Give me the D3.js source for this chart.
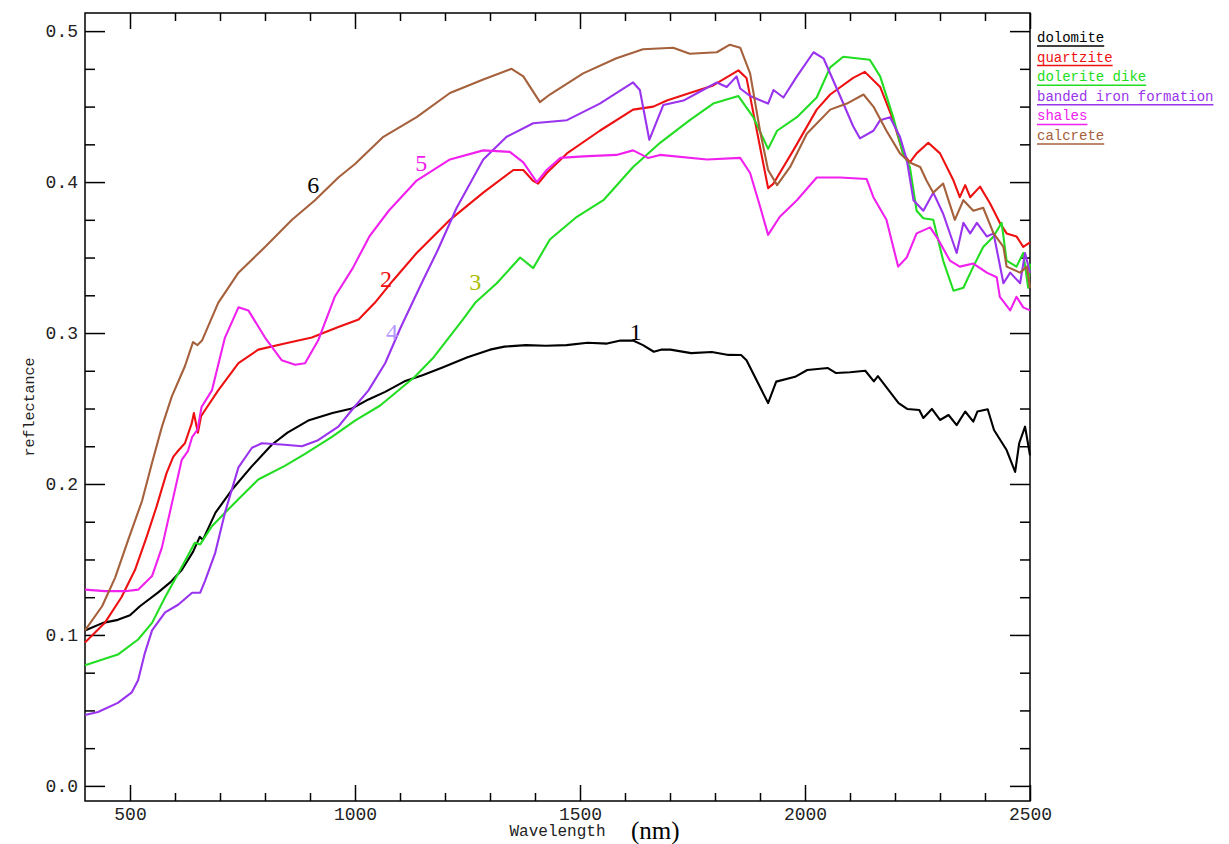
<!DOCTYPE html>
<html>
<head>
<meta charset="utf-8">
<script src="https://cdn.jsdelivr.net/npm/d3@7"></script>
<style>
  html, body { margin: 0; padding: 0; background: #fff; }
  svg { display: block; }
</style>
</head>
<body>
<svg id="chart" width="1229" height="844"></svg>
<script>
// ---------------- DATA ----------------
const dolomite = [[400,0.103],[440,0.108],[473,0.110],[500,0.113],[522,0.119],[562,0.128],[590,0.135],[615,0.143],[640,0.155],[655,0.165],[662,0.163],[690,0.181],[726,0.196],[770,0.2115],[815,0.226],[850,0.234],[896,0.242],[950,0.247],[993,0.250],[1030,0.256],[1067,0.261],[1110,0.268],[1150,0.272],[1193,0.277],[1250,0.284],[1300,0.289],[1332,0.291],[1380,0.292],[1424,0.2916],[1470,0.292],[1517,0.2936],[1560,0.293],[1590,0.295],[1618,0.295],[1640,0.292],[1664,0.2876],[1680,0.289],[1701,0.289],[1747,0.2867],[1793,0.2874],[1830,0.2855],[1858,0.2854],[1870,0.282],[1918,0.2536],[1936,0.2678],[1978,0.271],[2005,0.2755],[2051,0.2768],[2069,0.2735],[2100,0.274],[2134,0.275],[2153,0.268],[2162,0.2715],[2208,0.2536],[2227,0.2497],[2254,0.249],[2263,0.2437],[2282,0.2497],[2300,0.2424],[2319,0.2457],[2337,0.239],[2356,0.248],[2374,0.2413],[2383,0.248],[2406,0.2495],[2420,0.2358],[2448,0.2225],[2467,0.208],[2476,0.227],[2489,0.238],[2498,0.2225],[2500,0.219]];

const quartzite = [[400,0.095],[444,0.108],[481,0.125],[511,0.143],[537,0.165],[559,0.185],[581,0.207],[596,0.218],[607,0.222],[622,0.227],[637,0.240],[642,0.247],[648,0.238],[651,0.234],[658,0.245],[667,0.249],[696,0.262],[741,0.280],[785,0.289],[844,0.293],[904,0.297],[963,0.304],[1008,0.309],[1044,0.320],[1085,0.335],[1137,0.353],[1211,0.375],[1285,0.393],[1352,0.408],[1374,0.408],[1395,0.401],[1407,0.399],[1426,0.406],[1471,0.419],[1544,0.434],[1618,0.448],[1663,0.450],[1693,0.454],[1744,0.459],[1796,0.464],[1852,0.474],[1870,0.469],[1918,0.396],[1930,0.399],[1974,0.421],[2026,0.448],[2056,0.458],[2107,0.469],[2133,0.473],[2167,0.463],[2196,0.441],[2218,0.419],[2233,0.413],[2248,0.419],[2274,0.426],[2300,0.419],[2330,0.401],[2344,0.39],[2356,0.398],[2367,0.39],[2389,0.397],[2411,0.386],[2433,0.373],[2448,0.366],[2470,0.364],[2485,0.357],[2500,0.360]];

const doleriteDike = [[400,0.080],[473,0.087],[518,0.097],[549,0.108],[578,0.125],[615,0.145],[644,0.161],[656,0.160],[682,0.172],[711,0.181],[748,0.192],[785,0.203],[844,0.212],[889,0.220],[948,0.231],[1000,0.242],[1056,0.252],[1133,0.271],[1175,0.284],[1240,0.309],[1267,0.320],[1315,0.333],[1367,0.350],[1396,0.343],[1433,0.362],[1493,0.377],[1552,0.388],[1618,0.410],[1678,0.426],[1744,0.441],[1796,0.452],[1852,0.457],[1885,0.443],[1918,0.422],[1938,0.434],[1982,0.443],[2026,0.456],[2056,0.476],[2085,0.483],[2144,0.481],[2167,0.470],[2196,0.443],[2218,0.419],[2233,0.410],[2248,0.381],[2263,0.376],[2285,0.375],[2307,0.348],[2330,0.328],[2352,0.330],[2374,0.344],[2396,0.357],[2419,0.364],[2437,0.373],[2448,0.348],[2470,0.344],[2485,0.353],[2496,0.330],[2500,0.346]];

const bandedIron = [[400,0.047],[429,0.049],[473,0.055],[504,0.062],[518,0.070],[533,0.088],[549,0.103],[578,0.115],[607,0.120],[638,0.128],[656,0.128],[667,0.136],[689,0.154],[711,0.181],[741,0.211],[771,0.224],[793,0.227],[844,0.226],[882,0.225],[918,0.229],[963,0.238],[993,0.249],[1030,0.262],[1067,0.280],[1102,0.304],[1148,0.333],[1184,0.355],[1226,0.383],[1285,0.415],[1337,0.430],[1396,0.439],[1471,0.441],[1544,0.452],[1618,0.466],[1633,0.461],[1654,0.428],[1685,0.451],[1730,0.454],[1767,0.460],[1804,0.466],[1826,0.463],[1848,0.470],[1856,0.462],[1878,0.457],[1918,0.452],[1930,0.461],[1952,0.456],[1982,0.470],[2019,0.486],[2041,0.482],[2078,0.457],[2107,0.437],[2122,0.429],[2152,0.434],[2167,0.441],[2189,0.443],[2211,0.430],[2226,0.415],[2241,0.388],[2263,0.381],[2285,0.393],[2307,0.379],[2337,0.353],[2352,0.373],[2367,0.366],[2382,0.373],[2404,0.364],[2419,0.366],[2441,0.333],[2456,0.340],[2478,0.333],[2489,0.353],[2500,0.340]];

const shales = [[400,0.130],[444,0.129],[489,0.129],[518,0.130],[549,0.139],[571,0.158],[593,0.187],[615,0.216],[629,0.222],[638,0.231],[650,0.236],[659,0.251],[682,0.262],[711,0.297],[741,0.317],[763,0.315],[800,0.297],[837,0.282],[867,0.279],[889,0.280],[918,0.295],[955,0.324],[995,0.343],[1032,0.364],[1075,0.381],[1137,0.401],[1211,0.415],[1285,0.421],[1344,0.420],[1374,0.413],[1404,0.400],[1426,0.408],[1456,0.416],[1507,0.417],[1581,0.418],[1618,0.421],[1651,0.416],[1678,0.418],[1782,0.415],[1856,0.416],[1878,0.406],[1900,0.384],[1918,0.365],[1944,0.377],[1982,0.388],[2026,0.403],[2078,0.403],[2137,0.402],[2152,0.390],[2181,0.375],[2207,0.344],[2226,0.350],[2248,0.366],[2278,0.370],[2296,0.362],[2322,0.348],[2344,0.344],[2374,0.346],[2404,0.340],[2426,0.337],[2433,0.324],[2456,0.315],[2470,0.324],[2485,0.317],[2500,0.315]];

const calcrete = [[400,0.103],[438,0.119],[467,0.138],[496,0.163],[527,0.189],[549,0.214],[571,0.238],[593,0.258],[622,0.278],[640,0.294],[650,0.292],[660,0.295],[696,0.320],[741,0.340],[800,0.357],[860,0.375],[911,0.388],[963,0.403],[1000,0.412],[1063,0.430],[1137,0.443],[1211,0.459],[1285,0.468],[1348,0.475],[1374,0.470],[1411,0.453],[1433,0.458],[1507,0.472],[1581,0.482],[1640,0.488],[1707,0.489],[1744,0.485],[1804,0.486],[1833,0.491],[1856,0.489],[1878,0.472],[1900,0.434],[1918,0.408],[1938,0.398],[1967,0.410],[2004,0.432],[2056,0.448],[2093,0.452],[2130,0.458],[2152,0.450],[2181,0.434],[2211,0.419],[2233,0.413],[2256,0.410],[2270,0.401],[2285,0.393],[2307,0.399],[2333,0.375],[2352,0.388],[2374,0.381],[2396,0.383],[2419,0.366],[2441,0.357],[2448,0.344],[2478,0.340],[2493,0.344],[2500,0.330]];

const seriesNames = ["dolomite", "quartzite", "dolerite dike", "banded iron formation", "shales", "calcrete"];
const seriesData = [dolomite, quartzite, doleriteDike, bandedIron, shales, calcrete];
const seriesColors = ["#000000", "#ee1111", "#22dd22", "#9933ee", "#f020ee", "#a5603c"];

const xMajorTicks = [500, 1000, 1500, 2000, 2500];
const xMinorTicks = [600,700,800,900,1100,1200,1300,1400,1600,1700,1800,1900,2100,2200,2300,2400];
const yMajorTicks = [0.0, 0.1, 0.2, 0.3, 0.4, 0.5];
const yMinorTicks = [0.025,0.05,0.075,0.125,0.15,0.175,0.225,0.25,0.275,0.325,0.35,0.375,0.425,0.45,0.475];

// curve number annotations
const annoLabels = ["6", "5", "2", "3", "4", "1"];
const annoWave   = [907, 1147, 1069, 1267, 1082, 1624];
const annoRefl   = [0.398, 0.413, 0.336, 0.334, 0.301, 0.301];
const annoColors = ["#000000", "#f020ee", "#ee1111", "#aabb00", "#b399ff", "#000000"];

// ---------------- CHART ----------------
const svg = d3.select("#chart");
const L = 85, R = 1030, T = 13, B = 801;
const x = d3.scaleLinear().domain([400, 2500]).range([L, R]);
const y = d3.scaleLinear().domain([-0.01, 0.512]).range([B, T]);

const tickFont = "'Liberation Mono', 'DejaVu Sans Mono', monospace";

const gx = svg.append("g").attr("transform", `translate(0,${B})`)
  .call(d3.axisBottom(x).tickValues(xMajorTicks).tickSize(-16).tickPadding(6).tickFormat(d3.format("d")));
const gxm = svg.append("g").attr("transform", `translate(0,${B})`)
  .call(d3.axisBottom(x).tickValues(xMinorTicks).tickSize(-8).tickFormat(""));
const gxt = svg.append("g").attr("transform", `translate(0,${T})`)
  .call(d3.axisTop(x).tickValues(xMajorTicks).tickSize(-16).tickFormat(""));
const gxtm = svg.append("g").attr("transform", `translate(0,${T})`)
  .call(d3.axisTop(x).tickValues(xMinorTicks).tickSize(-8).tickFormat(""));
const gy = svg.append("g").attr("transform", `translate(${L},0)`)
  .call(d3.axisLeft(y).tickValues(yMajorTicks).tickSize(-20).tickPadding(7).tickFormat(d3.format(".1f")));
const gym = svg.append("g").attr("transform", `translate(${L},0)`)
  .call(d3.axisLeft(y).tickValues(yMinorTicks).tickSize(-10).tickFormat(""));
const gyr = svg.append("g").attr("transform", `translate(${R},0)`)
  .call(d3.axisRight(y).tickValues(yMajorTicks).tickSize(-20).tickFormat(""));
const gyrm = svg.append("g").attr("transform", `translate(${R},0)`)
  .call(d3.axisRight(y).tickValues(yMinorTicks).tickSize(-10).tickFormat(""));

[gx, gxm, gxt, gxtm, gy, gym, gyr, gyrm].forEach(g => {
  g.select(".domain").remove();
  g.selectAll("line").attr("stroke", "#000").attr("stroke-width", 1.5);
  g.selectAll("text").attr("font-family", tickFont).attr("font-size", 18).attr("fill", "#222");
});

svg.append("rect").attr("x", L).attr("y", T).attr("width", R - L).attr("height", B - T)
  .attr("fill", "none").attr("stroke", "#000").attr("stroke-width", 1.5);

const line = d3.line().x(d => x(d[0])).y(d => y(d[1]));
seriesData.forEach((s, i) => {
  svg.append("path").datum(s)
    .attr("d", line)
    .attr("fill", "none")
    .attr("stroke", seriesColors[i])
    .attr("stroke-width", 2.1)
    .attr("stroke-linejoin", "round");
});

svg.append("text").attr("x", (L + R) / 2).attr("y", 836)
  .attr("text-anchor", "middle").attr("font-family", tickFont).attr("font-size", 16).attr("fill", "#222")
  .text("Wavelength");
svg.append("text").attr("x", 631).attr("y", 839)
  .attr("font-family", "'Liberation Serif', 'Times New Roman', serif").attr("font-size", 25).attr("fill", "#000")
  .text("(nm)");
svg.append("text").attr("transform", `translate(34,${(T + B) / 2}) rotate(-90)`)
  .attr("text-anchor", "middle").attr("font-family", tickFont).attr("font-size", 15).attr("fill", "#222")
  .text("reflectance");

const legend = svg.append("g");
seriesNames.forEach((name, i) => {
  const yy = 42 + i * 19.6;
  const t = legend.append("text").attr("x", 1037).attr("y", yy)
    .attr("font-family", tickFont).attr("font-size", 14).attr("fill", seriesColors[i])
    .text(name);
  const w = t.node().getComputedTextLength();
  legend.append("line").attr("x1", 1037).attr("x2", 1037 + w)
    .attr("y1", yy + 4).attr("y2", yy + 4)
    .attr("stroke", seriesColors[i]).attr("stroke-width", 1.5);
});

annoLabels.forEach((lab, i) => {
  svg.append("text").attr("x", x(annoWave[i])).attr("y", y(annoRefl[i]))
    .attr("dy", "0.35em").attr("text-anchor", "middle")
    .attr("font-family", "'Liberation Serif', 'Times New Roman', serif").attr("font-size", 24)
    .attr("fill", annoColors[i]).text(lab);
});
</script>
</body>
</html>
